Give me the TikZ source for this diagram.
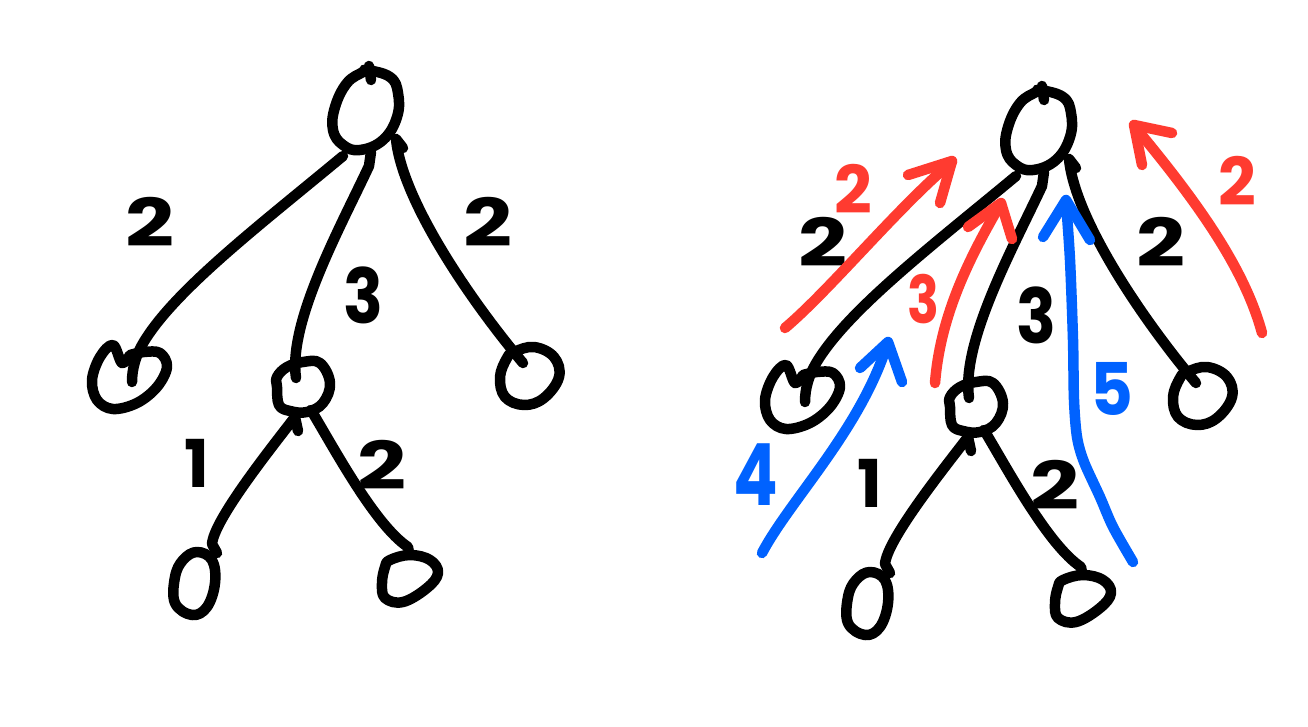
\documentclass[tikz,border=0pt]{standalone}
\usepackage{fontspec}
\newfontfamily\handfont{Poppins}
\definecolor{pred}{RGB}{255,59,48}
\definecolor{pblue}{RGB}{0,98,255}
\tikzset{
  ink/.style={draw=black,line width=10.5pt},
  redink/.style={draw=pred,line width=10.5pt},
  blueink/.style={draw=pblue,line width=10.5pt},
  lbl/.style={font=\handfont\bfseries\fontsize{66}{66}\selectfont,inner sep=0pt,anchor=center},
  two/.style={xscale=1.3},
}
\newcommand\drawtree[1]{%
  % root
  \begin{scope}[shift={(367,110)}]
    \coordinate (#1root) at (0,0);
    \draw[ink] plot[smooth cycle,tension=0.7] coordinates {(0,-40) (23,-33) (31,-17) (30,7) (16,30) (-7,40) (-24,35) (-34,20) (-32,-3) (-20,-27) (-4,-38)};
    \draw[ink] (2,-44) -- (4,-30);
  \end{scope}
  % left child A
  \begin{scope}[shift={(130,377)}]
    \coordinate (#1A) at (0,0);
    \draw[ink] plot[smooth,tension=0.6] coordinates {(0,-22) (-8,-14) (-17,-32) (-30,-20) (-38,3) (-33,23) (-17,32) (7,26) (27,10) (37,-10) (30,-24) (14,-25) (0,-22)};
  \end{scope}
  % middle child B
  \begin{scope}[shift={(303,387)}]
    \coordinate (#1B) at (0,0);
    \draw[ink] plot[smooth cycle,tension=0.65] coordinates {(0,-25) (17,-24) (27,-4) (20,16) (4,25) (-13,24) (-24,18) (-26,0) (-26,-10) (-16,-20)};
  \end{scope}
  % right child C
  \begin{scope}[shift={(530,376)}]
    \coordinate (#1C) at (0,0);
    \draw[ink] plot[smooth cycle,tension=0.65] coordinates {(-16,-24) (4,-29) (24,-19) (29,1) (14,22) (-6,29) (-25,21) (-30,1) (-23,-18)};
  \end{scope}
  % leaf D
  \begin{scope}[shift={(195,583)}]
    \coordinate (#1D) at (0,0);
    \draw[ink] plot[smooth cycle,tension=0.65] coordinates {(2,-31) (17,-23) (20,0) (12,24) (-3,32) (-20,20) (-20,-6) (-12,-23)};
  \end{scope}
  % leaf E
  \begin{scope}[shift={(410,578)}]
    \coordinate (#1E) at (0,0);
    \draw[ink] plot[smooth cycle,tension=0.65] coordinates {(-20,-18) (0,-23) (20,-18) (28,-5) (17,10) (-7,24) (-25,20) (-28,5) (-25,-11)};
  \end{scope}
  % connector ends
  \coordinate (#1rA) at (343,156); \coordinate (#1At) at (132,382);
  \coordinate (#1rB) at (371,152); \coordinate (#1Bt) at (296,378);
  \coordinate (#1rC) at (396,139); \coordinate (#1Ct) at (523,363);
  \coordinate (#1Bb) at (298,431); \coordinate (#1Dt) at (217,553);
  \coordinate (#1Bs) at (311,410); \coordinate (#1Et) at (409,553);
  % edges
  \draw[ink] (#1rA) .. controls (260,225) and (172,292) .. (142,345) .. controls (136,356) and (132,368) .. (#1At);
  \draw[ink] (#1rB) -- (369,166) .. controls (340,228) and (288,322) .. (#1Bt);
  \draw[ink] (403,148) -- (#1rC) .. controls (402,200) and (470,300) .. (#1Ct);
  \draw[ink] (#1Bb) -- (295,417) .. controls (268,452) and (214,520) .. (212,544) -- (#1Dt);
  \draw[ink] (#1Bs) .. controls (335,450) and (375,525) .. (408,547) -- (#1Et);
  % weights
  \node[lbl,two] (#1w1) at (150,222) {2};
  \node[lbl,yscale=1.15] (#1w2) at (363,295) {3};
  \node[lbl,two] (#1w3) at (488,222) {2};
  \node[lbl] (#1w4) at (197,463) {1};
  \node[lbl,two] (#1w5) at (382,465) {2};
}
\begin{document}
\begin{tikzpicture}[x=1pt,y=-1pt,line cap=round,line join=round]
\fill[white] (0,0) rectangle (1308,727);
\useasboundingbox (0,0) rectangle (1308,727);
\begin{scope}
  \drawtree{L}
\end{scope}
\begin{scope}[shift={(673,20)}]
  \drawtree{R}
\end{scope}
% red arrows
\draw[redink] (785,328) .. controls (830,290) and (900,205) .. (952,162);
\draw[redink] (908,175) -- (952,161) -- (940,203);
\node[lbl,text=pred] (red2a) at (853,189) {2};
\draw[redink] (935,383) .. controls (940,320) and (965,265) .. (1000,205);
\draw[redink] (968,227) -- (1001,203) -- (1012,239);
\node[lbl,text=pred,xscale=0.8] (red3) at (923,299) {3};
\draw[redink] (1262,333) .. controls (1245,270) and (1200,205) .. (1135,127);
\draw[redink] (1172,133) -- (1134,125) -- (1142,165);
\node[lbl,text=pred] (red2b) at (1237,181) {2};
% blue arrows
\draw[blueink] (762,553) .. controls (790,500) and (860,430) .. (887,345);
\draw[blueink] (860,368) -- (888,342) -- (902,382);
\node[lbl,text=pblue,yscale=1.3] (blue4) at (756,475) {4};
\draw[blueink] plot[smooth] coordinates {(1133,562) (1113,527) (1100,497) (1084,462) (1077,437) (1074,400) (1073,340) (1070,260) (1066,202)};
\draw[blueink] (1043,237) -- (1066,200) -- (1090,240);
\node[lbl,text=pblue,yscale=1.1] (blue5) at (1112,389) {5};
\end{tikzpicture}
\end{document}
